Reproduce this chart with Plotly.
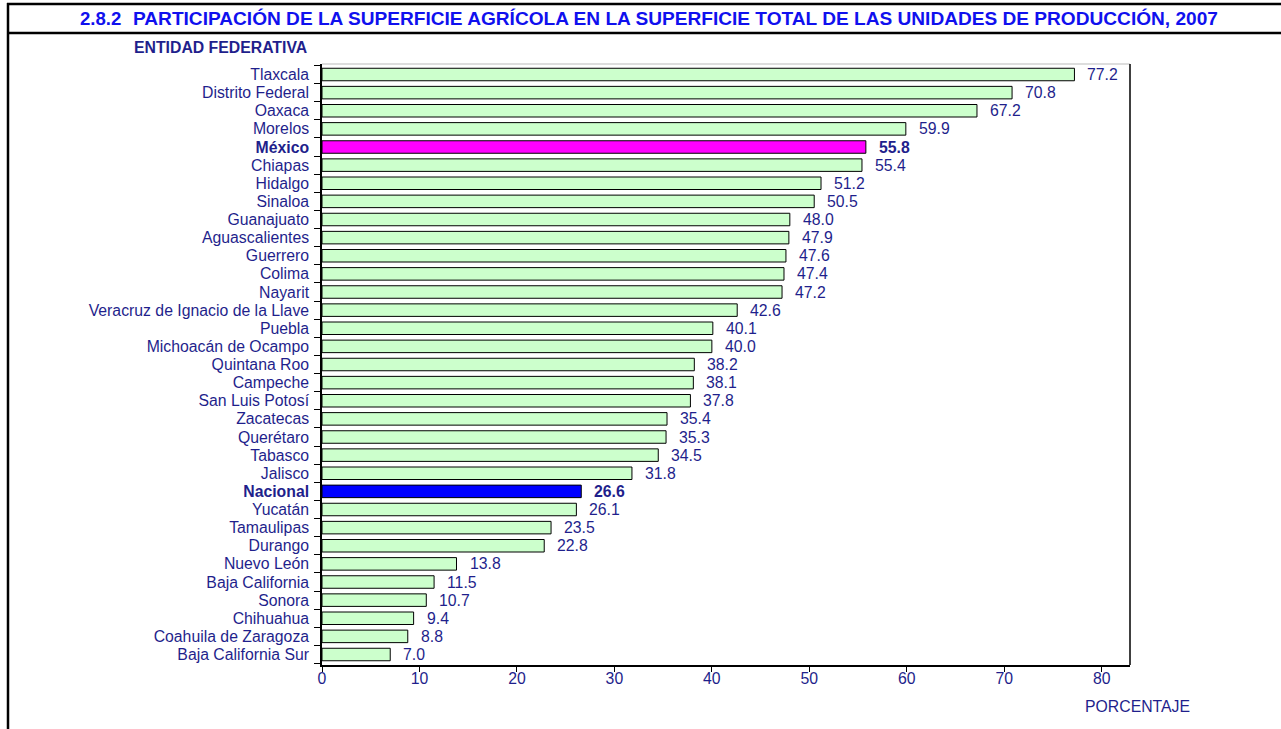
import plotly.graph_objects as go

# Entidades federativas, ordered from highest to lowest share
entidades = [
    "Tlaxcala", "Distrito Federal", "Oaxaca", "Morelos", "México", "Chiapas",
    "Hidalgo", "Sinaloa", "Guanajuato", "Aguascalientes", "Guerrero", "Colima",
    "Nayarit", "Veracruz de Ignacio de la Llave", "Puebla", "Michoacán de Ocampo",
    "Quintana Roo", "Campeche", "San Luis Potosí", "Zacatecas", "Querétaro",
    "Tabasco", "Jalisco", "Nacional", "Yucatán", "Tamaulipas", "Durango",
    "Nuevo León", "Baja California", "Sonora", "Chihuahua",
    "Coahuila de Zaragoza", "Baja California Sur",
]
porcentaje = [
    77.2, 70.8, 67.2, 59.9, 55.8, 55.4,
    51.2, 50.5, 48.0, 47.9, 47.6, 47.4,
    47.2, 42.6, 40.1, 40.0,
    38.2, 38.1, 37.8, 35.4, 35.3,
    34.5, 31.8, 26.6, 26.1, 23.5, 22.8,
    13.8, 11.5, 10.7, 9.4,
    8.8, 7.0,
]
x_ticks = [0, 10, 20, 30, 40, 50, 60, 70, 80]
destacados = {"México": "#FF00FF", "Nacional": "#0000FF"}

FONT = "Arial, Liberation Sans, sans-serif"
NAVY = "#1F1F8C"
TITLE_BLUE = "#1010EE"
FS = 15.8

W, H = 1281, 729
ML, MR, MT, MB = 322, 151, 64, 64
PW, PH = W - ML - MR, H - MT - MB


def px_x(px):
    return (px - ML) / PW


def px_y(py):
    return (H - MB - py) / PH


colores = [destacados.get(e, "#CCFFCC") for e in entidades]
ticktext = [f"<b>{e}</b>" if e in destacados else e for e in entidades]

fig = go.Figure(
    go.Bar(
        x=porcentaje,
        y=entidades,
        orientation="h",
        marker=dict(color=colores, line=dict(color="black", width=1)),
        hoverinfo="x+y",
    )
)

annotations = []
for e, v in zip(entidades, porcentaje):
    txt = f"{v:.1f}"
    if e in destacados:
        txt = f"<b>{txt}</b>"
    annotations.append(dict(
        x=v, y=e, xref="x", yref="y", text=txt, showarrow=False,
        xanchor="left", yanchor="middle", xshift=11,
        font=dict(family=FONT, size=FS, color=NAVY),
    ))

annotations += [
    dict(x=px_x(78), y=px_y(18.5), xref="paper", yref="paper", text="<b>2.8.2</b>",
         showarrow=False, xanchor="left", yanchor="middle",
         font=dict(family=FONT, size=18.6, color=TITLE_BLUE)),
    dict(x=px_x(131), y=px_y(18.5), xref="paper", yref="paper",
         text="<b>PARTICIPACIÓN DE LA SUPERFICIE AGRÍCOLA EN LA SUPERFICIE TOTAL "
              "DE LAS UNIDADES DE PRODUCCIÓN, 2007</b>",
         showarrow=False, xanchor="left", yanchor="middle",
         font=dict(family=FONT, size=19.1, color=TITLE_BLUE)),
    dict(x=px_x(309), y=px_y(47), xref="paper", yref="paper",
         text="<b>ENTIDAD FEDERATIVA</b>", showarrow=False,
         xanchor="right", yanchor="middle",
         font=dict(family=FONT, size=FS, color=NAVY)),
    dict(x=px_x(1137), y=px_y(706), xref="paper", yref="paper",
         text="PORCENTAJE", showarrow=False, xanchor="center", yanchor="middle",
         font=dict(family=FONT, size=FS, color=NAVY)),
]

shapes = [
    # title band
    dict(type="line", xref="paper", yref="paper", x0=px_x(7), x1=px_x(1300),
         y0=px_y(4), y1=px_y(4), line=dict(color="black", width=2.5)),
    dict(type="line", xref="paper", yref="paper", x0=px_x(7), x1=px_x(1300),
         y0=px_y(33), y1=px_y(33), line=dict(color="black", width=2.5)),
    # left frame line down the page
    dict(type="line", xref="paper", yref="paper", x0=px_x(8), x1=px_x(8),
         y0=px_y(3), y1=px_y(740), line=dict(color="black", width=2.5)),
    # plot area frame: top (light) and right
    dict(type="line", xref="paper", yref="paper", x0=0, x1=1, y0=1, y1=1,
         line=dict(color="#BBBBBB", width=1)),
    dict(type="line", xref="paper", yref="paper", x0=1, x1=1, y0=0, y1=1,
         line=dict(color="black", width=1.5)),
]

fig.update_layout(
    width=W, height=H,
    margin=dict(l=ML, r=MR, t=MT, b=MB, pad=0),
    paper_bgcolor="white", plot_bgcolor="white",
    showlegend=False,
    bargap=0.31,
    font=dict(family=FONT, size=FS, color=NAVY),
    annotations=annotations,
    shapes=shapes,
    xaxis=dict(
        range=[0, 82.9], tickvals=x_ticks, ticks="outside", ticklen=5,
        tickcolor="black", tickwidth=1, showline=True, linecolor="black",
        linewidth=2, showgrid=False, zeroline=False,
        tickfont=dict(family=FONT, size=FS, color=NAVY),
        ticklabelstandoff=-7,
    ),
    yaxis=dict(
        autorange="reversed", tickvals=entidades, ticktext=ticktext,
        ticks="outside", ticklen=6, tickson="boundaries", tickcolor="black",
        showline=True, linecolor="black", linewidth=1.5, showgrid=False,
        tickfont=dict(family=FONT, size=FS, color=NAVY),
        ticklabelstandoff=8,
    ),
)

fig.write_html("out.html")
